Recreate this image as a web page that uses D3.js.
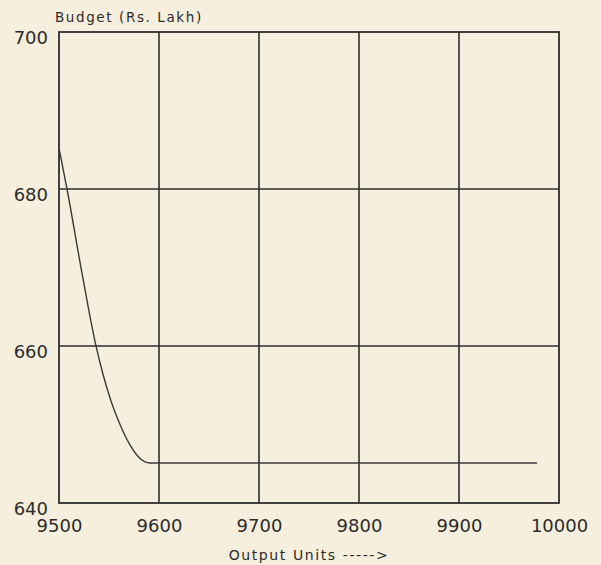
<!DOCTYPE html>
<html>
<head>
<meta charset="utf-8">
<script src="https://cdn.jsdelivr.net/npm/d3@7"></script>
<style>
    body { margin: 0; background: #f6efdd; }
    svg { display: block; }
    text { font-family: "DejaVu Sans", sans-serif; fill: #2b2b2b; }
</style>
</head>
<body>
<div id="chart"></div>
<script>
// Output units and the budget
var outputUnits = [9500, 9508, 9521, 9529, 9536, 9544, 9552, 9561, 9571, 9580, 9591,
    9650, 9700, 9750, 9800, 9850, 9900, 9950, 9978];
var budget = [685.2, 680, 670.7, 665.1, 660.6, 656.4, 653.0, 650.0, 647.4, 645.8, 645.1,
    645.1, 645.1, 645.1, 645.1, 645.1, 645.1, 645.1, 645.1];

// Tick labels
var xTicks = [9500, 9600, 9700, 9800, 9900, 10000];
var yTicks = [640, 660, 680, 700];

var data = outputUnits.map(function (u, i) {
    return { units: u, budget: budget[i] };
});

// Set the dimensions and margins of the graph
var margin = { top: 32, right: 42, bottom: 62, left: 59 };
var width = 601 - margin.left - margin.right;
var height = 565 - margin.top - margin.bottom;

var svg = d3.select("#chart")
    .append("svg")
    .attr("width", 601)
    .attr("height", 565)
    .append("g")
    .attr("transform", "translate(" + margin.left + "," + margin.top + ")");

var x = d3.scaleLinear().domain([9500, 10000]).range([0, width]);
var y = d3.scaleLinear().domain([640, 700]).range([height, 0]);

var ink = "#2e2e2e";

// Grid lines
svg.selectAll(".vgrid")
    .data(xTicks.slice(1, -1))
    .enter().append("line")
    .attr("class", "vgrid")
    .attr("x1", function (d) { return x(d); })
    .attr("x2", function (d) { return x(d); })
    .attr("y1", 0)
    .attr("y2", height)
    .style("stroke", ink)
    .style("stroke-width", 1.6);

svg.selectAll(".hgrid")
    .data(yTicks.slice(1, -1))
    .enter().append("line")
    .attr("class", "hgrid")
    .attr("x1", 0)
    .attr("x2", width)
    .attr("y1", function (d) { return y(d); })
    .attr("y2", function (d) { return y(d); })
    .style("stroke", ink)
    .style("stroke-width", 1.6);

// Frame
svg.append("rect")
    .attr("x", 0)
    .attr("y", 0)
    .attr("width", width)
    .attr("height", height)
    .style("fill", "none")
    .style("stroke", ink)
    .style("stroke-width", 1.8);

// Axes (labels only, the frame and grid draw the lines)
var xAxis = svg.append("g")
    .attr("transform", "translate(0," + height + ")")
    .call(d3.axisBottom(x).tickValues(xTicks).tickSize(0).tickPadding(16).tickFormat(d3.format("d")));
xAxis.select(".domain").remove();
xAxis.selectAll("text")
    .style("font-size", "18px")
    .style("font-family", "DejaVu Sans, sans-serif")
    .style("fill", "#2b2b2b");

var yAxis = svg.append("g")
    .call(d3.axisLeft(y).tickValues(yTicks).tickSize(0).tickPadding(11).tickFormat(d3.format("d")));
yAxis.select(".domain").remove();
yAxis.selectAll("text")
    .attr("dy", "0.62em")
    .style("font-size", "18px")
    .style("font-family", "DejaVu Sans, sans-serif")
    .style("fill", "#2b2b2b");

// Budget curve
var line = d3.line()
    .x(function (d) { return x(d.units); })
    .y(function (d) { return y(d.budget); })
    .curve(d3.curveMonotoneX);

svg.append("path")
    .datum(data)
    .attr("d", line)
    .style("fill", "none")
    .style("stroke", "#3a3a3a")
    .style("stroke-width", 1.4);

// Axis titles
svg.append("text")
    .attr("x", -4)
    .attr("y", -10)
    .style("font-size", "13.5px")
    .style("letter-spacing", "1.6px")
    .text("Budget (Rs. Lakh)");

svg.append("text")
    .attr("x", width / 2)
    .attr("y", height + 57)
    .attr("text-anchor", "middle")
    .style("font-size", "14px")
    .style("letter-spacing", "1.6px")
    .text("Output Units ----->");
</script>
</body>
</html>
